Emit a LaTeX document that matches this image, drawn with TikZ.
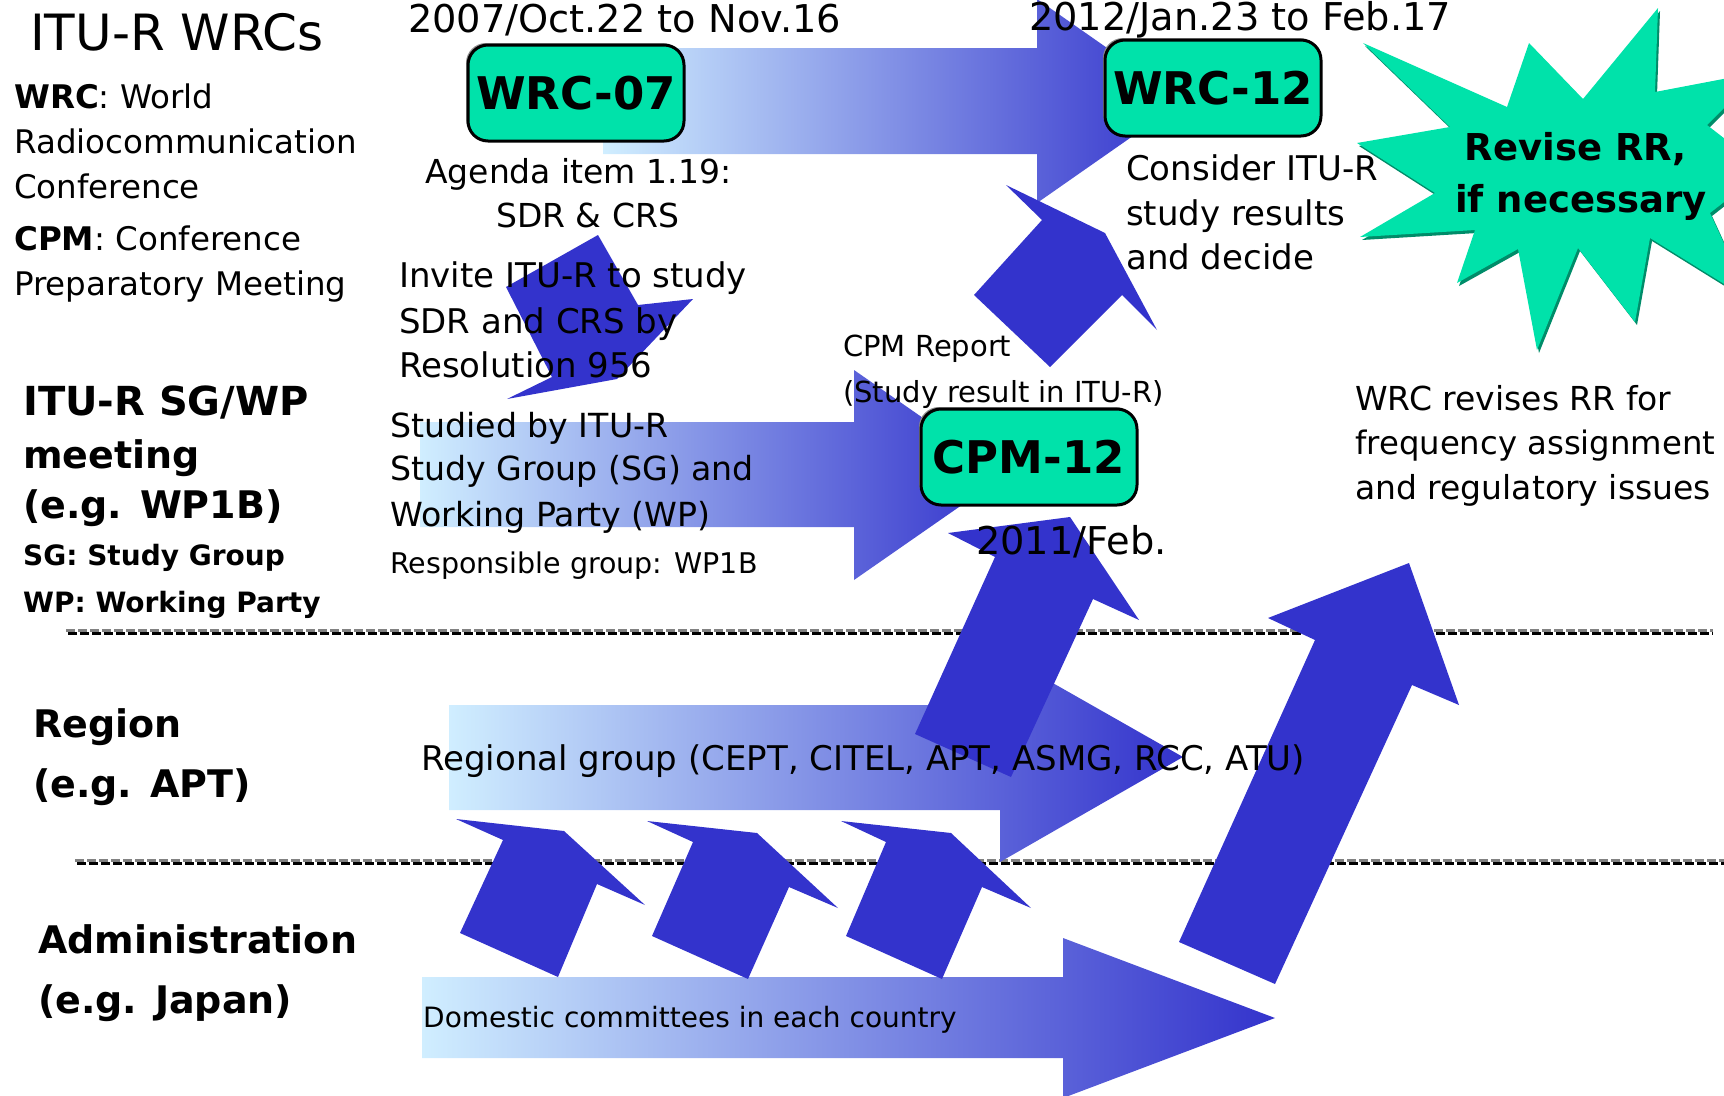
\documentclass[tikz,border=0pt]{standalone}
\usepackage{fontspec}
\setmainfont{DejaVu Sans}
\usetikzlibrary{shadows}

\definecolor{boxgreen}{RGB}{0,226,170}
\definecolor{stardark}{RGB}{0,140,105}
\definecolor{arrowblue}{RGB}{51,51,204}
\definecolor{arrowpale}{RGB}{208,238,255}
\definecolor{dashgray}{RGB}{130,130,130}

\tikzset{
	lbl/.style={anchor=base west, inner sep=0pt, font=\fontsize{34}{40}\selectfont},
	def lbl/.style={lbl, font=\fontsize{32.5}{40}\selectfont},
	small lbl/.style={lbl, font=\fontsize{29}{34}\selectfont},
	date lbl/.style={lbl, font=\fontsize{38.3}{44}\selectfont},
	row lbl/.style={lbl, font=\bfseries\fontsize{38}{44}\selectfont},
	note lbl/.style={lbl, font=\bfseries\fontsize{28}{34}\selectfont},
	meeting/.style={rounded corners=20pt, draw=black, line width=3pt, fill=boxgreen,
		minimum width=216pt, minimum height=96pt, inner sep=0pt,
		font=\bfseries\fontsize{45}{50}\selectfont,
		general shadow={fill=black!45, shadow xshift=-2pt, shadow yshift=2pt}},
	flow/.style={left color=arrowpale, right color=arrowblue},
	push/.style={fill=arrowblue},
	sep gray/.style={draw=dashgray, line width=3pt, dash pattern=on 9pt off 3pt},
	sep black/.style={draw=black, line width=3pt, dash pattern=on 9pt off 3pt}
}

\begin{document}
\begin{tikzpicture}[x=1pt, y=-1pt]
	\useasboundingbox (0,0) rectangle (1724,1095);

	% separators between the levels
	\coordinate (sepA1) at (66,630);
	\coordinate (sepA2) at (1713,630);
	\coordinate (sepB1) at (75,860);
	\coordinate (sepB2) at (1724,860);
	\draw[sep gray] (sepA1) -- (sepA2);
	\draw[sep black] ([xshift=2pt, yshift=-3.5pt]sepA1) -- ([yshift=-3.5pt]sepA2);
	\draw[sep gray] (sepB1) -- (sepB2);
	\draw[sep black] ([xshift=2pt, yshift=-3.5pt]sepB1) -- ([yshift=-3.5pt]sepB2);

	% flows along the time axis
	\shade[flow] (603,48) -- (1037,48) -- (1037,-1) -- (1183,101) -- (1037,203) -- (1037,154) -- (603,154) -- cycle;
	\shade[flow] (420,422) -- (854,422) -- (854,370) -- (1005,475) -- (854,580) -- (854,527) -- (420,527) -- cycle;
	\shade[flow] (449,705) -- (1000,705) -- (1000,653) -- (1183,757) -- (1000,862) -- (1000,810) -- (449,810) -- cycle;
	\shade[flow] (422,977) -- (1063,977) -- (1063,938) -- (1275,1018) -- (1063,1098) -- (1063,1058) -- (422,1058) -- cycle;

	% arrows between the levels
	\fill[push] (598,235) -- (638,305) -- (693,299) -- (617,379) -- (507,399) -- (552,377) -- (506,287) -- cycle;
	\fill[push] (1006,185) -- (1105,233) -- (1157,330) -- (1122,295) -- (1050,367) -- (974,295) -- (1042,220) -- cycle;
	\fill[push] (1070,517) -- (1139,620) -- (1093,599) -- (1011,777) -- (915,734) -- (995,557) -- (948,533) -- cycle;
	\fill[push] (1409,563) -- (1459,705) -- (1412,685) -- (1275,984) -- (1179,942) -- (1315,640) -- (1268,618) -- cycle;
	\fill[push] (456,819) -- (564,831) -- (645,905) -- (597,884) -- (558,977) -- (460,933) -- (503,840) -- cycle;
	\fill[push] (647,821) -- (757,833) -- (838,908) -- (789,887) -- (748,979) -- (652,936) -- (693,842) -- cycle;
	\fill[push] (841,821) -- (951,833) -- (1031,908) -- (982,887) -- (942,979) -- (846,936) -- (886,842) -- cycle;

	% burst
	\fill[stardark, xshift=2pt, yshift=-3pt] (1363,43) -- (1507,107) -- (1529,43) -- (1583,99) -- (1658,8) -- (1655,92) -- (1760,72) -- (1707,125) -- (1765,170) -- (1710,213) -- (1750,300) -- (1650,238) -- (1635,322) -- (1578,248) -- (1537,350) -- (1518,249) -- (1457,283) -- (1475,230) -- (1360,237) -- (1435,193) -- (1357,143) -- (1450,127) -- cycle;
	\fill[boxgreen] (1363,43) -- (1507,107) -- (1529,43) -- (1583,99) -- (1658,8) -- (1655,92) -- (1760,72) -- (1707,125) -- (1765,170) -- (1710,213) -- (1750,300) -- (1650,238) -- (1635,322) -- (1578,248) -- (1537,350) -- (1518,249) -- (1457,283) -- (1475,230) -- (1360,237) -- (1435,193) -- (1357,143) -- (1450,127) -- cycle;
	\node (rev1) at (1576,160) [anchor=base, inner sep=0pt, font=\bfseries\fontsize{37}{44}\selectfont] {Revise RR,};
	\node (rev2) at (1581,212) [anchor=base, inner sep=0pt, font=\bfseries\fontsize{37}{44}\selectfont] {if necessary};

	% meetings
	\node (WRC07) at (576,93) [meeting] {WRC-07};
	\node (WRC12) at (1213,88) [meeting] {WRC-12};
	\node (CPM12) at (1029,457) [meeting] {CPM-12};

	% level names
	\node (title) at (30,50) [lbl, font=\fontsize{50}{56}\selectfont] {ITU-R WRCs};
	\node (wrcA) at (14,108) [def lbl] {\textbf{WRC}: World};
	\node (wrcB) at (14,153) [def lbl] {Radiocommunication};
	\node (wrcC) at (14,198) [def lbl] {Conference};
	\node (cpmA) at (14,250) [def lbl] {\textbf{CPM}: Conference};
	\node (cpmB) at (14,295) [def lbl] {Preparatory Meeting};
	\node (sgA) at (23,415) [row lbl, font=\bfseries\fontsize{40}{44}\selectfont] {ITU-R SG/WP};
	\node (sgB) at (23,468) [row lbl] {meeting};
	\node (sgC) at (23,518) [row lbl] {(e.g. WP1B)};
	\node (sgD) at (23,565) [note lbl] {SG: Study Group};
	\node (sgE) at (23,612) [note lbl] {WP: Working Party};
	\node (regA) at (33,737) [row lbl] {Region};
	\node (regB) at (33,797) [row lbl] {(e.g. APT)};
	\node (admA) at (38,953) [row lbl] {Administration};
	\node (admB) at (38,1013) [row lbl] {(e.g. Japan)};

	% dates and notes
	\node (date07) at (408,32) [date lbl] {2007/Oct.22 to Nov.16};
	\node (date12) at (1029,30) [date lbl] {2012/Jan.23 to Feb.17};
	\node (date11) at (976,554) [date lbl] {2011/Feb.};
	\node (agA) at (425,183) [lbl, font=\fontsize{33}{40}\selectfont] {Agenda item 1.19:};
	\node (agB) at (496,227) [lbl, font=\fontsize{33}{40}\selectfont] {SDR \& CRS};
	\node (invA) at (399,287) [lbl] {Invite ITU-R to study};
	\node (invB) at (399,333) [lbl] {SDR and CRS by};
	\node (invC) at (399,377) [lbl] {Resolution 956};
	\node (conA) at (1126,180) [lbl] {Consider ITU-R};
	\node (conB) at (1126,225) [lbl] {study results};
	\node (conC) at (1126,269) [lbl] {and decide};
	\node (repA) at (843,356) [small lbl] {CPM Report};
	\node (repB) at (843,402) [small lbl] {(Study result in ITU-R)};
	\node (stA) at (390,437) [lbl, font=\fontsize{33.2}{40}\selectfont] {Studied by ITU-R};
	\node (stB) at (390,480) [lbl, font=\fontsize{33.2}{40}\selectfont] {Study Group (SG) and};
	\node (stC) at (390,526) [lbl, font=\fontsize{33.2}{40}\selectfont] {Working Party (WP)};
	\node (resp) at (390,573) [small lbl, font=\fontsize{28.5}{34}\selectfont] {Responsible group: WP1B};
	\node (rrA) at (1355,410) [lbl, font=\fontsize{33}{40}\selectfont] {WRC revises RR for};
	\node (rrB) at (1355,454) [lbl, font=\fontsize{32.3}{40}\selectfont] {frequency assignment};
	\node (rrC) at (1355,499) [lbl, font=\fontsize{33}{40}\selectfont] {and regulatory issues};
	\node (regional) at (421,770) [lbl] {Regional group (CEPT, CITEL, APT, ASMG, RCC, ATU)};
	\node (domestic) at (423,1027) [small lbl, font=\fontsize{28}{34}\selectfont] {Domestic committees in each country};
\end{tikzpicture}
\end{document}
